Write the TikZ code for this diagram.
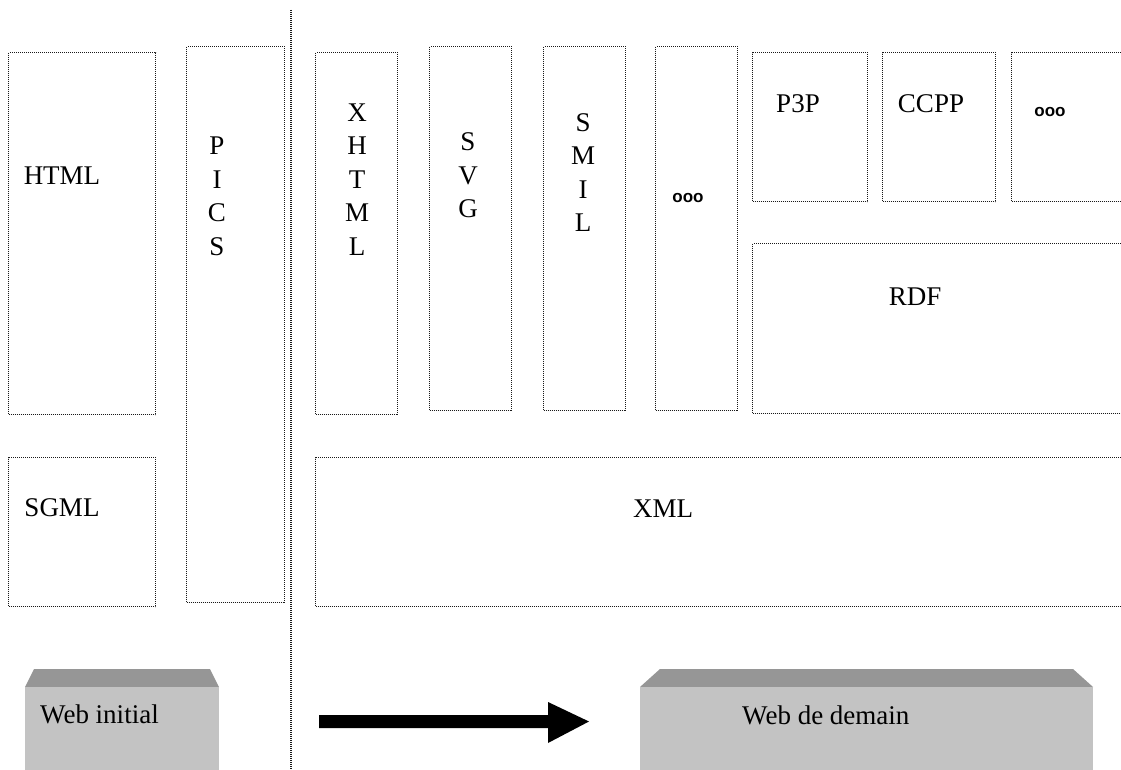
\documentclass[tikz,border=0pt]{standalone}
\usepackage{fontspec}
\setmainfont{Liberation Serif}
\newfontfamily\dotsfont{Liberation Sans}
\definecolor{faceg}{HTML}{C3C3C3}
\definecolor{topg}{HTML}{969696}
\definecolor{dotg}{HTML}{1A1A1A}
\begin{document}
\begin{tikzpicture}[x=1pt,y=-1pt,
  dbox/.style={draw=dotg, line width=1.2pt, dash pattern=on 1pt off 1pt, inner sep=0pt, anchor=north west},
  lbl/.style={inner sep=0pt, font=\fontsize{27}{33.5}\selectfont, align=center},
  ooo/.style={inner sep=0pt, font=\dotsfont\bfseries\fontsize{17}{17}\selectfont},
  face/.style={fill=faceg, draw=none},
  bevel/.style={fill=topg, draw=none}]
\useasboundingbox (0,0) rectangle (1121,770);
\clip (0,0) rectangle (1121,770);
\fill[white] (0,0) rectangle (1121,770);
% divider
\coordinate (dtop) at (291,10);
\coordinate (dbot) at (291,772);
\draw[draw=dotg, line width=1.2pt, dash pattern=on 1pt off 1pt] (dtop) -- (dbot);
% left boxes
\node[dbox, minimum width=147, minimum height=362] (bhtml) at (8,52) {};
\node[dbox, minimum width=147, minimum height=149] (bsgml) at (8,457) {};
\node[dbox, minimum width=98, minimum height=556] (bpics) at (186,46) {};
% columns
\node[dbox, minimum width=82, minimum height=362] (bxhtml) at (315,52) {};
\node[dbox, minimum width=82, minimum height=364] (bsvg) at (429,46) {};
\node[dbox, minimum width=82, minimum height=364] (bsmil) at (543,46) {};
\node[dbox, minimum width=82, minimum height=364] (bdots) at (655,46) {};
% right top boxes
\node[dbox, minimum width=115, minimum height=149] (bp3p) at (752,52) {};
\node[dbox, minimum width=113, minimum height=149] (bccpp) at (882,52) {};
\node[dbox, minimum width=130, minimum height=149] (bdots2) at (1011,52) {};
\node[dbox, minimum width=390, minimum height=170] (brdf) at (752,243) {};
\node[dbox, minimum width=830, minimum height=149] (bxml) at (315,457) {};
% labels
\node[lbl] (thtml) at (62,176) {HTML};
\node[lbl] (tsgml) at (62,508) {SGML};
\node[lbl] (tpics) at (217,196.5) {P\\I\\C\\S};
\node[lbl] (txhtml) at (357,179.5) {X\\H\\T\\M\\L};
\node[lbl] (tsvg) at (468,175.5) {S\\V\\G};
\node[lbl] (tsmil) at (583,172.5) {S\\M\\I\\L};
\node[ooo] (tdots) at (688,198) {ooo};
\node[lbl] (tp3p) at (798,104) {P3P};
\node[lbl] (tccpp) at (931,104) {CCPP};
\node[ooo] (tdots2) at (1050,112) {ooo};
\node[lbl] (trdf) at (915,297) {RDF};
\node[lbl] (txml) at (663,509) {XML};
% web boxes
\fill[bevel] (25,687) -- (34,669) -- (210,669) -- (219,687) -- cycle;
\node[face, inner sep=0pt, minimum width=194, minimum height=90, anchor=north west] (winit) at (25,687) {};
\node[lbl, anchor=west] (twinit) at (40,714) {Web initial};
\fill[bevel] (640,687) -- (660,669) -- (1073,669) -- (1093,687) -- cycle;
\node[face, inner sep=0pt, minimum width=453, minimum height=90, anchor=north west] (wdem) at (640,687) {};
\node[lbl, anchor=west] (twdem) at (742,715) {Web de demain};
% arrow
\coordinate (astart) at (319,721.5);
\coordinate (aend) at (589,721.5);
\fill[black] (astart) ++(0,-6.5) -- (548,715) -- (548,702) -- (aend) -- (548,743) -- (548,728) -- (319,728) -- cycle;
\end{tikzpicture}
\end{document}
